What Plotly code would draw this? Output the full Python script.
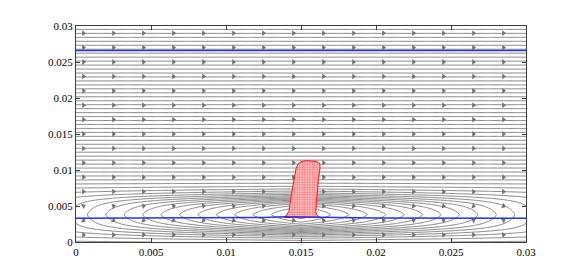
import numpy as np
import plotly.graph_objects as go

# ---- data ----
x_ticks = [0, 0.005, 0.01, 0.015, 0.02, 0.025, 0.03]
y_ticks = [0, 0.005, 0.01, 0.015, 0.02, 0.025, 0.03]
tick_text = ['0', '0.005', '0.01', '0.015', '0.02', '0.025', '0.03']

# droplet outline (red mesh body)
drop_x = [0.01390, 0.01405, 0.01420, 0.01433, 0.01450, 0.01467, 0.01480, 0.01500,
          0.01530, 0.01565, 0.01600, 0.01625, 0.01627, 0.01615, 0.01604, 0.01598,
          0.01605, 0.01625, 0.01390]
drop_y = [0.00340, 0.00380, 0.00425, 0.00624, 0.00850, 0.01020, 0.01080, 0.01115,
          0.01130, 0.01130, 0.01120, 0.01090, 0.01030, 0.00850, 0.00624, 0.00425,
          0.00375, 0.00345, 0.00340]

# interface lines (blue)
upper_x = [0.0, 0.03]
upper_y = [0.0266, 0.0266]
lower_x = [0.0, 0.005, 0.010, 0.0125, 0.0140, 0.0160, 0.0175, 0.020, 0.025, 0.030]
lower_y = [0.0033, 0.0033, 0.00335, 0.0034, 0.0035, 0.0035, 0.0034, 0.00335, 0.0033, 0.0033]

# arrow grid (quiver-like arrowheads)
arrow_cols = [0.0005 + 0.002 * k for k in range(15)]
arrow_rows = [0.001 + 0.002 * k for k in range(15)]

# flow-field parameters (stream function model of the picture)
flow_center_x = 0.015
flow_center_y = 0.0038
half_length = 0.015
far_spacing = 0.00055
band_spacing = 0.004
loop_spacing = 0.0012
band_half = 0.0021
band_soft = 0.00055
core = 0.0003

# ---- stream function ----
gx = np.linspace(0, 0.03, 481)
gy = np.linspace(0, 0.03, 481)
X, Y = np.meshgrid(gx, gy)


def psi(x, y):
    eta = np.abs(y - flow_center_y)
    a_in = 1.0 / band_spacing
    a_out = 1.0 / far_spacing
    b = 1.0 / loop_spacing
    z = (eta - band_half) / band_soft
    base = a_in * np.sqrt(eta ** 2 + core ** 2) + (a_out - a_in) * band_soft * np.logaddexp(0, z)
    E = 1.0 / (1.0 + np.exp(z))
    dx = np.sqrt((x - flow_center_x) ** 2 + 1e-9)
    return base - b * (half_length - dx) * E


Z = psi(X, Y)
zmin = float(Z.min())
z_edge = (1.0 / band_spacing) * core

fig = go.Figure()
fig.add_trace(go.Contour(
    x=gx, y=gy, z=Z,
    contours=dict(coloring='lines', start=z_edge - np.floor(z_edge - zmin) + 0.4, end=float(Z.max()),
                  size=1.0, showlabels=False),
    colorscale=[[0, '#505050'], [1, '#505050']], showscale=False,
    line=dict(width=0.7), hoverinfo='skip'))

# arrowheads
ax, ay, ang = [], [], []
h = 1e-6
for xv in arrow_cols:
    for yv in arrow_rows:
        dpy = (psi(xv, yv + h) - psi(xv, yv - h)) / (2 * h)
        dpx = (psi(xv + h, yv) - psi(xv - h, yv)) / (2 * h)
        u, v = dpy, -dpx
        if u < 0:
            u, v = -u, -v
        px, py = u * 15000.0, v * 7533.0
        a = -np.degrees(np.arctan2(py, px))
        ax.append(xv)
        ay.append(yv)
        ang.append(float(np.clip(a, -30, 30)))
fig.add_trace(go.Scatter(x=ax, y=ay, mode='markers',
                         marker=dict(symbol='triangle-right', size=5, color='#707070', angle=ang,
                                     line=dict(width=0)),
                         hoverinfo='skip'))

# droplet
fig.add_trace(go.Scatter(x=drop_x, y=drop_y, mode='lines', fill='toself',
                         line=dict(color='#ff1010', width=1),
                         fillcolor='white',
                         fillpattern=dict(shape='+', fgcolor='#ff1010', bgcolor='white', size=2.5, solidity=0.8),
                         hoverinfo='skip'))

# interfaces
fig.add_trace(go.Scatter(x=upper_x, y=upper_y, mode='lines', line=dict(color='#2233ee', width=1.5), hoverinfo='skip'))
fig.add_trace(go.Scatter(x=lower_x, y=lower_y, mode='lines', line=dict(color='#2233ee', width=1.5), hoverinfo='skip'))

axis_common = dict(showgrid=False, zeroline=False, showline=True, linecolor='#3a3a3a', linewidth=1,
                   mirror='ticks', ticks='inside', ticklen=4, tickcolor='#3a3a3a',
                   tickfont=dict(family='Liberation Serif, Times New Roman, serif', size=11, color='black'))
fig.update_xaxes(range=[0, 0.03], tickvals=x_ticks, ticktext=tick_text, **axis_common)
fig.update_yaxes(range=[0, 0.03], tickvals=y_ticks, ticktext=tick_text, **axis_common)
fig.update_layout(width=565, height=262, margin=dict(l=68, r=47, t=13, b=23),
                  paper_bgcolor='white', plot_bgcolor='white', showlegend=False)
fig.write_html("out.html")
